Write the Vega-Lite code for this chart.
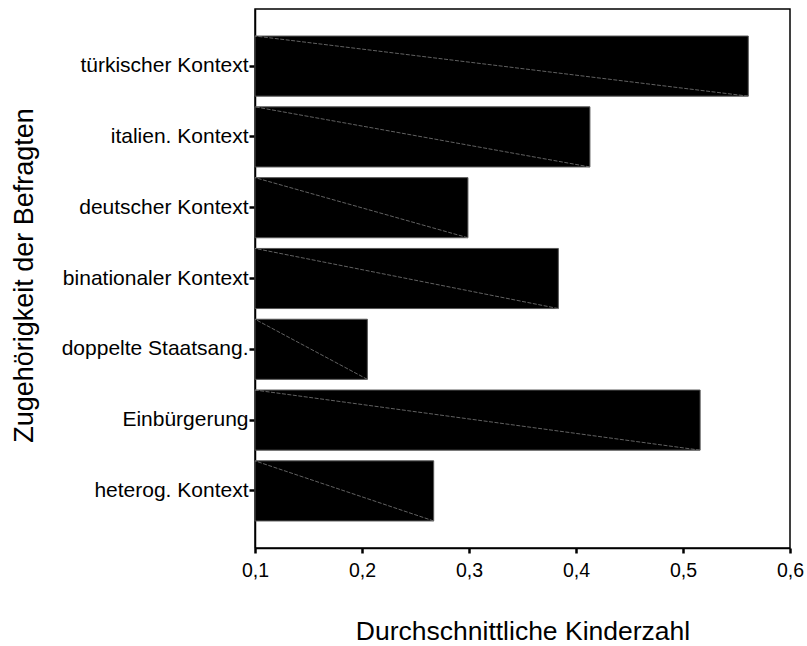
{
  "$schema": "https://vega.github.io/schema/vega-lite/v6.json",
  "width": 535,
  "height": 539,
  "autosize": {"type": "none"},
  "padding": {"left": 255, "top": 9, "right": 17, "bottom": 98},
  "background": "white",
  "config": {
    "font": "Liberation Sans",
    "view": {"stroke": "black", "strokeWidth": 1.5},
    "axis": {"grid": false, "domainColor": "black", "domainWidth": 1.5, "tickColor": "black", "labelColor": "black", "titleColor": "black", "titleFontWeight": "normal", "labelFont": "Liberation Sans", "titleFont": "Liberation Sans"}
  },
  "data": {
    "values": [
      {"Kontext": "türkischer Kontext", "Kinderzahl": 0.561},
      {"Kontext": "italien. Kontext", "Kinderzahl": 0.413},
      {"Kontext": "deutscher Kontext", "Kinderzahl": 0.299},
      {"Kontext": "binationaler Kontext", "Kinderzahl": 0.3835},
      {"Kontext": "doppelte Staatsang.", "Kinderzahl": 0.205},
      {"Kontext": "Einbürgerung", "Kinderzahl": 0.516},
      {"Kontext": "heterog. Kontext", "Kinderzahl": 0.267}
    ]
  },
  "layer": [
    {
      "mark": {"type": "bar", "fill": "black", "stroke": "#555", "strokeWidth": 1},
      "encoding": {
        "y": {
          "field": "Kontext",
          "type": "nominal",
          "sort": null,
          "scale": {"paddingInner": 0.151, "paddingOuter": 0.382},
          "axis": {
            "title": "Zugehörigkeit der Befragten",
            "titleFontSize": 27,
            "titleAngle": 270,
            "titleX": -223,
            "titleY": 266,
            "titleAlign": "center",
            "titleBaseline": "alphabetic",
            "labelFontSize": 21,
            "labelLimit": 300,
            "labelPadding": 1,
            "tickSize": 6,
            "tickWidth": 2.5,
            "labelBaseline": "middle"
          }
        },
        "x": {
          "field": "Kinderzahl",
          "type": "quantitative",
          "scale": {"domain": [0.1, 0.6], "zero": false, "nice": false},
          "axis": {
            "title": "Durchschnittliche Kinderzahl",
            "titleFontSize": 26.5,
            "titleBaseline": "alphabetic",
            "titleY": 91,
            "values": [0.1, 0.2, 0.3, 0.4, 0.5, 0.6],
            "labelExpr": "replace(format(datum.value, '.1f'), '.', ',')",
            "labelFontSize": 19.5,
            "labelPadding": 8,
            "tickSize": 5,
            "tickWidth": 2.5,
            "labelFlush": false,
            "labelOverlap": false
          }
        },
        "x2": {"datum": 0.1}
      }
    },
    {
      "mark": {"type": "rule", "stroke": "#7a7a7a", "strokeWidth": 0.8, "strokeDash": [4, 1.5]},
      "encoding": {
        "x": {"field": "Kinderzahl", "type": "quantitative"},
        "x2": {"datum": 0.1},
        "y": {"field": "Kontext", "type": "nominal", "sort": null, "bandPosition": 1},
        "y2": {"field": "Kontext", "bandPosition": 0}
      }
    }
  ]
}
